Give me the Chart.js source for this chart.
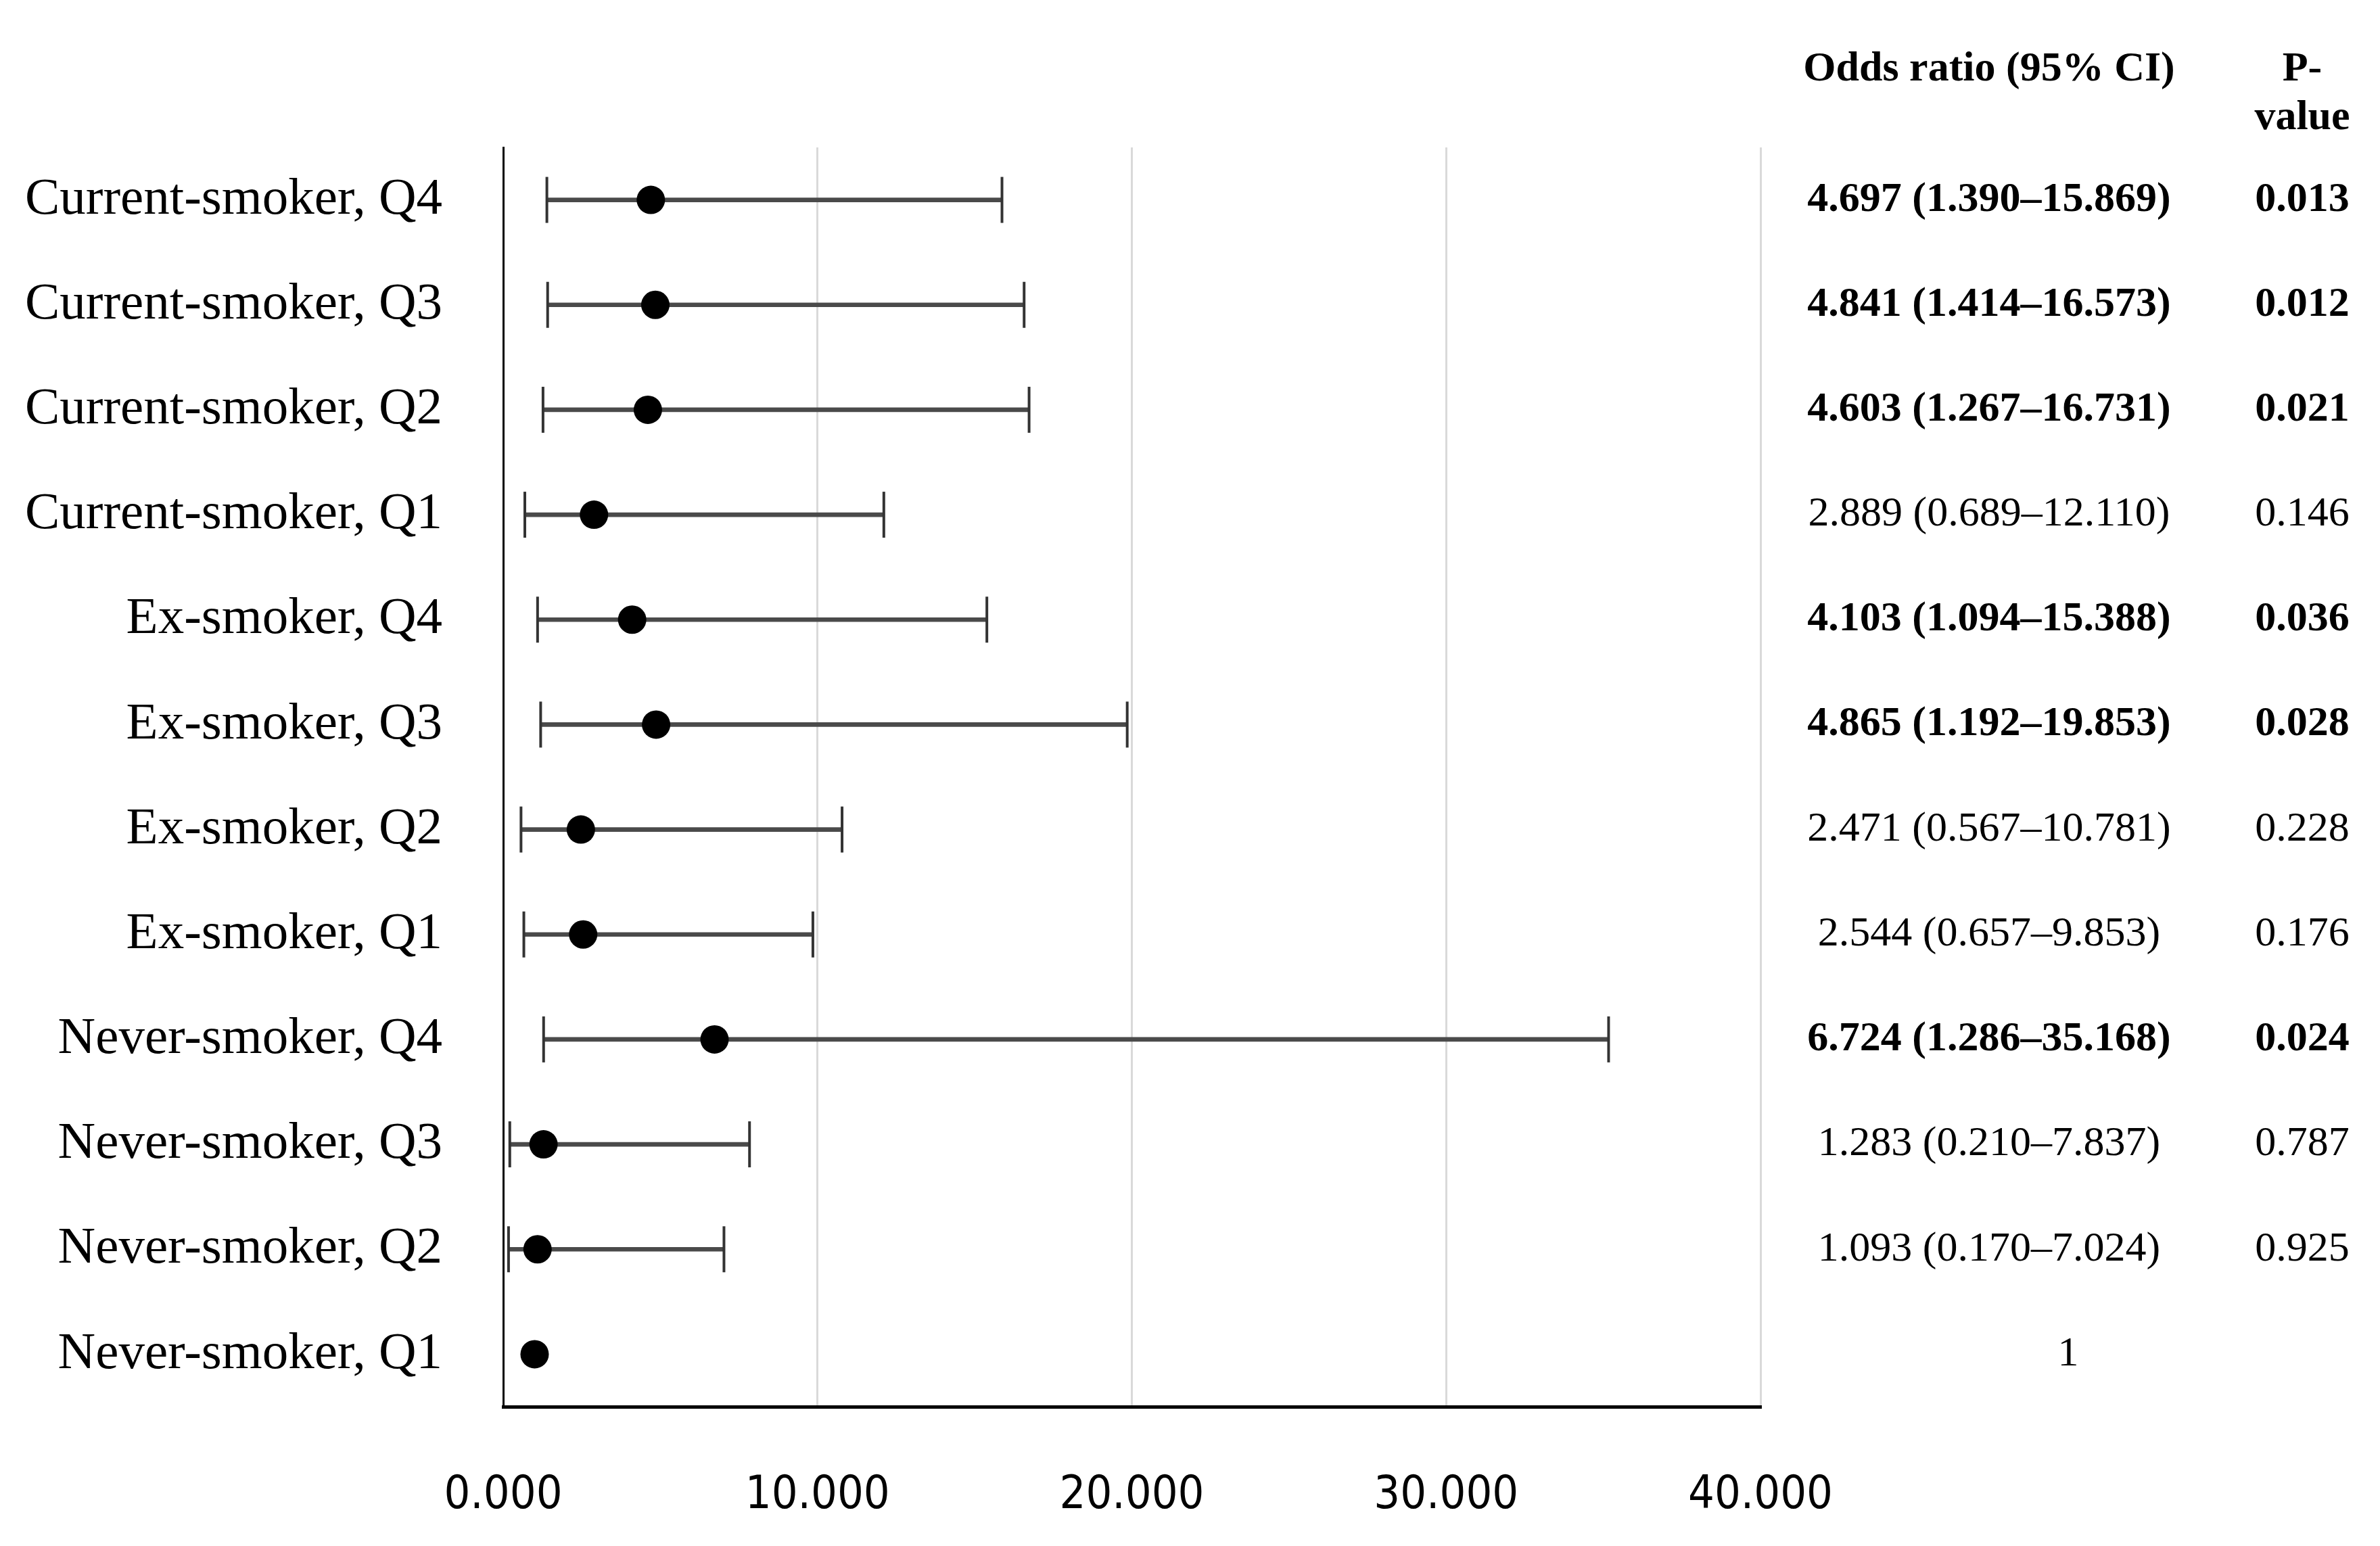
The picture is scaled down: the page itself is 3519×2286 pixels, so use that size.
<!DOCTYPE html>
<html>
<head>
<meta charset="utf-8">
<script src="https://cdn.jsdelivr.net/npm/chart.js@4.4.1/dist/chart.umd.min.js"></script>
<style>
  html, body { margin: 0; padding: 0; background: #ffffff; }
  #wrap { width: 3519px; height: 2286px; }
</style>
</head>
<body>
<div id="wrap"><canvas id="myChart" width="3519" height="2286"></canvas></div>
<script>
// rows, top to bottom
const categories = [
    'Current-smoker, Q4', 'Current-smoker, Q3', 'Current-smoker, Q2', 'Current-smoker, Q1',
    'Ex-smoker, Q4', 'Ex-smoker, Q3', 'Ex-smoker, Q2', 'Ex-smoker, Q1',
    'Never-smoker, Q4', 'Never-smoker, Q3', 'Never-smoker, Q2', 'Never-smoker, Q1'
];
const oddsRatio = [4.697, 4.841, 4.603, 2.889, 4.103, 4.865, 2.471, 2.544, 6.724, 1.283, 1.093, 1];
const ciLow = [1.390, 1.414, 1.267, 0.689, 1.094, 1.192, 0.567, 0.657, 1.286, 0.210, 0.170, null];
const ciHigh = [15.869, 16.573, 16.731, 12.110, 15.388, 19.853, 10.781, 9.853, 35.168, 7.837, 7.024, null];
const pValues = ['0.013', '0.012', '0.021', '0.146', '0.036', '0.028', '0.228', '0.176', '0.024', '0.787', '0.925', ''];
const significant = [true, true, true, false, true, true, false, false, true, false, false, false];
const xTicks = [0, 10, 20, 30, 40];

const serif = '"Liberation Serif", "Times New Roman", serif';

function orLabel(i) {
    if (ciLow[i] === null) return String(oddsRatio[i]);
    return oddsRatio[i].toFixed(3) + ' (' + ciLow[i].toFixed(3) + '\u2013' + ciHigh[i].toFixed(3) + ')';
}

function capPoints(arr) {
    const pts = [];
    for (let i = 0; i < arr.length; i++) {
        if (arr[i] !== null) pts.push({ x: arr[i], y: categories[i] });
    }
    return pts;
}

// right-hand table: odds ratio text and p-values, placed on the category scale
const tablePlugin = {
    id: 'tablePlugin',
    afterDraw(chart) {
        const ctx = chart.ctx;
        const yScale = chart.scales.y;
        const orX = 2941, pX = 3404;
        ctx.save();
        ctx.fillStyle = '#000000';
        ctx.textAlign = 'center';
        ctx.textBaseline = 'middle';
        ctx.font = 'bold 62px ' + serif;
        ctx.fillText('Odds ratio (95% CI)', orX, 103);
        ctx.fillText('P-', pX, 103);
        ctx.fillText('value', pX, 175);
        for (let i = 0; i < categories.length; i++) {
            const y = yScale.getPixelForValue(i);
            ctx.font = (significant[i] ? 'bold ' : '') + '62px ' + serif;
            if (pValues[i] === '') {
                ctx.fillText(orLabel(i), 3058, y);
            } else {
                ctx.fillText(orLabel(i), orX, y);
                ctx.fillText(pValues[i], pX, y);
            }
        }
        ctx.restore();
    }
};

const ctx = document.getElementById('myChart').getContext('2d');
const chart = new Chart(ctx, {
    type: 'bar',
    data: {
        labels: categories,
        datasets: [
            {
                // confidence interval lines
                type: 'bar',
                data: ciLow.map((lo, i) => lo === null ? null : [lo, ciHigh[i]]),
                backgroundColor: '#4a4a4a',
                barThickness: 6,
                order: 3
            },
            {
                type: 'line',
                showLine: false,
                data: capPoints(ciLow),
                pointStyle: 'line',
                rotation: 90,
                pointRadius: 34,
                borderColor: '#333333',
                borderWidth: 4,
                order: 2
            },
            {
                type: 'line',
                showLine: false,
                data: capPoints(ciHigh),
                pointStyle: 'line',
                rotation: 90,
                pointRadius: 34,
                borderColor: '#333333',
                borderWidth: 4,
                order: 2
            },
            {
                // point estimates
                type: 'line',
                showLine: false,
                data: oddsRatio.map((v, i) => ({ x: v, y: categories[i] })),
                pointStyle: 'circle',
                pointRadius: 21,
                backgroundColor: '#000000',
                borderColor: '#000000',
                borderWidth: 0,
                order: 1
            }
        ]
    },
    options: {
        indexAxis: 'y',
        responsive: false,
        animation: false,
        devicePixelRatio: 1,
        layout: { padding: { top: 218, right: 916, bottom: 0, left: 0 } },
        plugins: {
            legend: { display: false },
            tooltip: { enabled: false }
        },
        scales: {
            x: {
                type: 'linear',
                min: 0,
                max: 40,
                afterBuildTicks(scale) { scale.ticks = xTicks.map(v => ({ value: v })); },
                afterFit(scale) { scale.height = 2286 - 2080; },
                ticks: {
                    padding: 92,
                    color: '#000000',
                    font: { family: '"DejaVu Sans Condensed", "Liberation Sans Narrow", sans-serif', size: 68 },
                    callback: v => Number(v).toFixed(3)
                },
                grid: { color: '#d9d9d9', lineWidth: 3, drawTicks: false },
                border: { color: '#000000', width: 5 }
            },
            y: {
                type: 'category',
                offset: true,
                afterFit(scale) { scale.width = 744; },
                ticks: {
                    padding: 90,
                    color: '#000000',
                    font: { family: serif, size: 77 }
                },
                grid: { display: false, drawTicks: false },
                border: { color: '#000000', width: 3 }
            }
        }
    },
    plugins: [tablePlugin]
});
</script>
</body>
</html>
